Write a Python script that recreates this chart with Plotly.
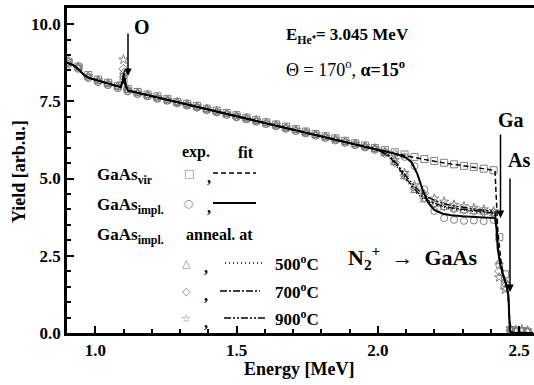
import plotly.graph_objects as go

# ---------------- data ----------------
E_exp = [0.905, 0.94, 0.975, 1.01, 1.045, 1.08, 1.10, 1.115, 1.15, 1.185, 1.22, 1.255, 1.29,
         1.325, 1.36, 1.395, 1.43, 1.465, 1.5, 1.535, 1.57, 1.605, 1.64, 1.675, 1.71, 1.745,
         1.78, 1.815, 1.85, 1.885, 1.92, 1.955, 1.99, 2.025, 2.06, 2.095, 2.13, 2.165, 2.2,
         2.235, 2.27, 2.305, 2.34, 2.375, 2.41, 2.43, 2.45, 2.47, 2.49, 2.51, 2.53]

y_vir_exp = [8.78, 8.62, 8.35, 8.2, 8.1, 8.0, 8.2, 7.9, 7.8, 7.72, 7.66, 7.58, 7.48, 7.42, 7.35,
             7.26, 7.2, 7.12, 7.05, 6.97, 6.9, 6.82, 6.75, 6.68, 6.6, 6.52, 6.44, 6.37, 6.3,
             6.22, 6.14, 6.07, 5.99, 5.92, 5.85, 5.78, 5.7, 5.63, 5.57, 5.51, 5.46, 5.41, 5.37,
             5.32, 5.27, 3.1, 1.9, 0.1, 0.05, 0.06, 0.04]
y_impl_exp = [8.7, 8.55, 8.25, 8.12, 8.02, 7.92, 8.3, 7.82, 7.74, 7.66, 7.58, 7.52, 7.44, 7.36,
              7.3, 7.21, 7.14, 7.06, 6.98, 6.92, 6.84, 6.76, 6.69, 6.61, 6.54, 6.46, 6.39, 6.31,
              6.24, 6.16, 6.08, 6.01, 5.93, 5.86, 5.79, 5.7, 5.4, 4.65, 3.95, 3.72, 3.66, 3.63,
              3.64, 3.62, 3.66, 2.2, 1.6, 0.08, 0.04, 0.05, 0.03]
y_500_exp = [8.72, 8.58, 8.28, 8.15, 8.05, 7.95, 8.45, 7.84, 7.76, 7.68, 7.6, 7.53, 7.46, 7.38,
             7.3, 7.23, 7.15, 7.08, 7.0, 6.93, 6.85, 6.78, 6.7, 6.62, 6.55, 6.47, 6.4, 6.32,
             6.25, 6.17, 6.09, 6.02, 5.94, 5.8, 5.5, 5.05, 4.6, 4.3, 4.15, 4.05, 4.0, 3.95,
             3.92, 3.9, 3.85, 2.3, 1.7, 0.12, 0.06, 0.08, 0.05]
y_700_exp = [8.76, 8.6, 8.3, 8.16, 8.06, 7.97, 8.55, 7.86, 7.75, 7.69, 7.61, 7.55, 7.45, 7.39,
             7.31, 7.24, 7.16, 7.09, 7.02, 6.94, 6.87, 6.79, 6.72, 6.64, 6.56, 6.49, 6.41, 6.34,
             6.26, 6.18, 6.11, 6.03, 5.96, 5.82, 5.52, 5.1, 4.68, 4.38, 4.2, 4.1, 4.02, 3.98,
             3.95, 3.92, 3.88, 2.0, 1.5, 0.1, 0.07, 0.05, 0.06]
y_900_exp = [8.8, 8.62, 8.32, 8.18, 8.08, 7.99, 8.85, 7.88, 7.78, 7.7, 7.63, 7.54, 7.47, 7.4,
             7.33, 7.25, 7.18, 7.1, 7.03, 6.95, 6.88, 6.8, 6.73, 6.65, 6.57, 6.5, 6.42, 6.35,
             6.27, 6.19, 6.12, 6.04, 5.97, 5.85, 5.6, 5.18, 4.78, 4.48, 4.35, 4.25, 4.15, 4.1,
             4.05, 4.0, 3.95, 1.8, 1.4, 0.15, 0.1, 0.12, 0.08]

E_fit = [0.90, 0.92, 0.94, 0.96, 0.98, 1.00, 1.05, 1.09, 1.096, 1.102, 1.108, 1.115, 1.30, 1.50,
         1.70, 1.90, 2.00, 2.04, 2.07, 2.10, 2.12, 2.14, 2.16, 2.18, 2.20, 2.23, 2.26, 2.30,
         2.35, 2.40, 2.415, 2.42, 2.425, 2.435, 2.445, 2.455, 2.462, 2.468, 2.48, 2.55]

y_vir_fit = [8.75, 8.68, 8.55, 8.35, 8.25, 8.2, 8.06, 7.96, 8.05, 8.2, 7.98, 7.85, 7.45, 7.01,
             6.58, 6.14, 5.93, 5.85, 5.79, 5.73, 5.69, 5.65, 5.62, 5.59, 5.56, 5.51, 5.47, 5.42,
             5.36, 5.28, 5.25, 4.0, 3.3, 2.4, 1.85, 1.55, 1.25, 0.05, 0.0, 0.0]
y_impl_fit = [8.75, 8.68, 8.55, 8.35, 8.25, 8.2, 8.06, 7.96, 8.1, 8.3, 8.0, 7.85, 7.45, 7.01,
              6.58, 6.14, 5.93, 5.85, 5.78, 5.68, 5.52, 5.15, 4.6, 4.2, 3.98, 3.86, 3.81, 3.78,
              3.76, 3.74, 3.72, 3.4, 2.7, 2.15, 1.85, 1.55, 1.25, 0.05, 0.0, 0.0]
y_500_fit = [8.75, 8.68, 8.55, 8.35, 8.25, 8.2, 8.06, 7.96, 8.12, 8.35, 8.0, 7.85, 7.45, 7.01,
             6.58, 6.14, 5.93, 5.7, 5.35, 4.95, 4.72, 4.5, 4.35, 4.24, 4.16, 4.07, 4.02, 3.97,
             3.92, 3.87, 3.84, 3.5, 2.8, 2.15, 1.85, 1.55, 1.25, 0.05, 0.0, 0.0]
y_700_fit = [8.75, 8.68, 8.55, 8.35, 8.25, 8.2, 8.06, 7.96, 8.15, 8.4, 8.02, 7.85, 7.45, 7.01,
             6.58, 6.14, 5.93, 5.72, 5.4, 5.0, 4.78, 4.56, 4.4, 4.28, 4.2, 4.11, 4.05, 4.0,
             3.95, 3.9, 3.87, 3.5, 2.8, 2.15, 1.85, 1.55, 1.25, 0.05, 0.0, 0.0]
y_900_fit = [8.75, 8.68, 8.55, 8.35, 8.25, 8.2, 8.06, 7.96, 8.2, 8.5, 8.05, 7.85, 7.45, 7.01,
             6.58, 6.14, 5.93, 5.75, 5.45, 5.08, 4.86, 4.65, 4.5, 4.38, 4.3, 4.2, 4.13, 4.07,
             4.0, 3.95, 3.92, 3.55, 2.85, 2.15, 1.85, 1.55, 1.25, 0.05, 0.0, 0.0]

x_ticks = [1.0, 1.5, 2.0, 2.5]
y_ticks = [0.0, 2.5, 5.0, 7.5, 10.0]

# ---------------- layout geometry ----------------
WIDTH, HEIGHT = 534, 385
L, T, R, B = 67, 8, 0, 52
PW, PH = WIDTH - L - R, HEIGHT - T - B


def px(x):
    return (x - L) / PW


def py(y):
    return (T + PH - y) / PH


FONT = "Liberation Serif"
GRAY = "#808080"

fig = go.Figure()

exp_series = [
    (y_vir_exp, "square-open"),
    (y_impl_exp, "circle-open"),
    (y_500_exp, "triangle-up-open"),
    (y_700_exp, "diamond-open"),
    (y_900_exp, "star-open"),
]
for ys, sym in exp_series:
    fig.add_trace(go.Scatter(x=E_exp, y=ys, mode="markers", showlegend=False,
                             marker=dict(symbol=sym, size=7, color=GRAY,
                                         line=dict(color=GRAY, width=1))))

fit_series = [
    (y_vir_fit, "5px,3px", 1.5),
    (y_impl_fit, "solid", 2),
    (y_500_fit, "1px,3px", 1.3),
    (y_700_fit, "7px,2px,2px,2px", 1.3),
    (y_900_fit, "7px,2px,2px,2px,2px,2px", 1.3),
]
for ys, dash, w in fit_series:
    fig.add_trace(go.Scatter(x=E_fit, y=ys, mode="lines", showlegend=False,
                             line=dict(color="black", width=w, dash=dash)))

ann = []


def text(x, y, s, size=15, bold=True, xanchor="center", color="black", family=FONT, textangle=0):
    ann.append(dict(x=px(x), y=py(y), xref="paper", yref="paper", text=s, showarrow=False,
                    xanchor=xanchor, yanchor="middle", textangle=textangle,
                    font=dict(family=family, size=size, color=color,
                              weight="bold" if bold else "normal")))


def arrow(x, y_head, y_tail):
    ann.append(dict(x=px(x), y=py(y_head), xref="paper", yref="paper", text="",
                    showarrow=True, ax=0, ay=y_tail - y_head, arrowhead=2, arrowsize=1,
                    arrowwidth=1.5, arrowcolor="black"))


# axis titles
text(299, 369, "Energy [MeV]", size=18)
text(19, 172, "Yield [arb.u.]", size=18, textangle=-90)

# element labels
text(142, 27, "O", size=20)
arrow(128, 76, 32)
text(511, 120, "Ga", size=20)
arrow(500.5, 218, 133)
text(519, 160, "As", size=20)
arrow(510, 292, 177)

# conditions
text(284, 36, "E<sub>He⁺</sub>= 3.045 MeV", size=17, xanchor="left")
text(284, 68, "Θ = 170<sup>o</sup>, <b>α=15<sup>o</sup></b>", size=18, bold=False, xanchor="left")
text(412, 257, "N<sub>2</sub><sup>+</sup>  →  GaAs", size=22)

# legend block
text(196, 152, "exp.", size=16)
text(246, 152, "fit", size=16)
text(95, 176, "GaAs<sub>vir</sub>", size=17, xanchor="left")
text(95, 206, "GaAs<sub>impl.</sub>", size=17, xanchor="left")
text(95, 236, "GaAs<sub>impl.</sub>", size=17, xanchor="left")
text(219, 234, "anneal. at", size=16)
rows = [
    (173, "□", 189, 213, 256, "5px,3px", 1.5, None),
    (203, "○", 189, 213, 256, "solid", 2, None),
    (263, "△", 186, 225, 265, "1px,3px", 1.3, "500<sup>o</sup>C"),
    (291, "◇", 186, 220, 260, "7px,2px,2px,2px", 1.3, "700<sup>o</sup>C"),
    (318, "☆", 186, 224, 265, "7px,2px,2px,2px,2px,2px", 1.3, "900<sup>o</sup>C"),
]
shapes = []
for yy, sym, sx, x0, x1, dash, w, lab in rows:
    text(sx, yy, sym, size=11, bold=False, color=GRAY, family="DejaVu Sans")
    text(sx + 20, yy + 4, ",", size=16)
    shapes.append(dict(type="line", xref="paper", yref="paper", x0=px(x0), x1=px(x1),
                       y0=py(yy), y1=py(yy), line=dict(color="black", width=w, dash=dash)))
    if lab:
        text(273, yy, lab, size=17, xanchor="left")

axis_common = dict(showline=True, linecolor="black", linewidth=2.5, ticks="inside",
                   tickcolor="black", tickwidth=2, ticklen=7, showgrid=False, zeroline=False,
                   tickfont=dict(family=FONT, size=17, color="black", weight="bold"))

fig.update_layout(
    width=WIDTH, height=HEIGHT, margin=dict(l=L, r=R, t=T, b=B),
    paper_bgcolor="white", plot_bgcolor="white", showlegend=False,
    xaxis=dict(range=[0.9, 2.553], tickvals=x_ticks, ticktext=[f"{v:.1f}" for v in x_ticks],
               mirror=True, minor=dict(ticks="inside", dtick=0.1, tick0=0.9, ticklen=4,
                                       tickwidth=2, tickcolor="black"),
               **axis_common),
    yaxis=dict(range=[0, 10.52], tickvals=y_ticks, ticktext=[f"{v:.1f}" for v in y_ticks],
               minor=dict(ticks="inside", dtick=0.5, tick0=0, ticklen=4, tickwidth=2,
                          tickcolor="black"),
               **axis_common),
    annotations=ann, shapes=shapes,
)

fig.write_html("out.html", config={"displayModeBar": False},
               post_script="document.body.style.margin='0';document.body.style.overflow='hidden';")
